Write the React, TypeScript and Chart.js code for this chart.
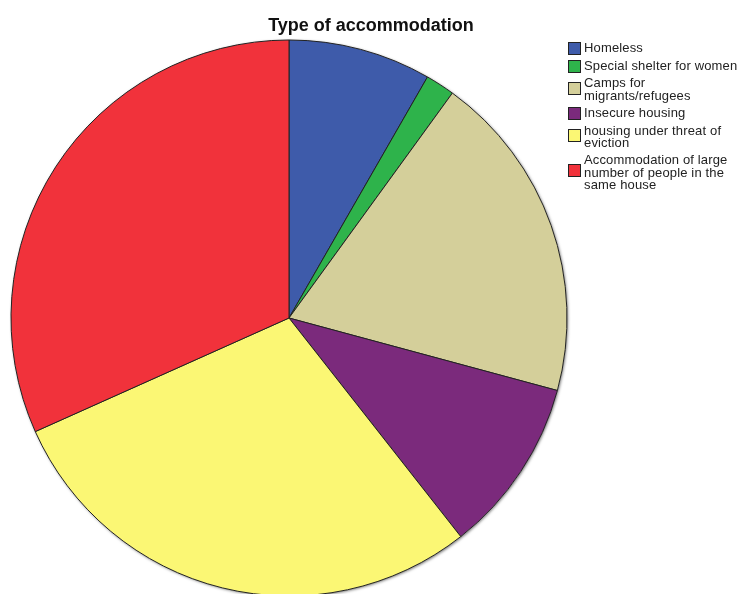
import React, { useEffect, useRef } from "react";
import { Chart, registerables } from "chart.js";

Chart.register(...registerables);

const categories = [
  "Homeless",
  "Special shelter for women",
  "Camps for migrants/refugees",
  "Insecure housing",
  "housing under threat of eviction",
  "Accommodation of large number of people in the same house",
];
const legendLines = [
  ["Homeless"],
  ["Special shelter for women"],
  ["Camps for", "migrants/refugees"],
  ["Insecure housing"],
  ["housing under threat of", "eviction"],
  ["Accommodation of large", "number of people in the", "same house"],
];
const values = [8.3, 1.7, 19.2, 10.2, 28.9, 31.7];
const colors = ["#3E5BAA", "#2EB34B", "#D4CF9A", "#7B2A7C", "#FBF774", "#F1323B"];
const title = "Type of accommodation";

const shadowPlugin = {
  id: "pieShadow",
  beforeDatasetsDraw(chart: any) {
    const arc = chart.getDatasetMeta(0).data[0];
    if (!arc) return;
    const { x, y, outerRadius } = arc.getProps(["x", "y", "outerRadius"], true);
    const ctx = chart.ctx;
    ctx.save();
    ctx.shadowColor = "rgba(0,0,0,0.55)";
    ctx.shadowBlur = 3;
    ctx.shadowOffsetX = 1;
    ctx.shadowOffsetY = 1;
    ctx.beginPath();
    ctx.arc(x, y, outerRadius, 0, Math.PI * 2);
    ctx.fillStyle = "#ffffff";
    ctx.fill();
    ctx.restore();
  },
};

export default function App() {
  const ref = useRef<HTMLCanvasElement>(null);
  useEffect(() => {
    if (!ref.current) return;
    const chart = new Chart(ref.current, {
      type: "pie",
      data: {
        labels: categories,
        datasets: [
          {
            data: values,
            backgroundColor: colors,
            borderColor: "#222222",
            borderWidth: 1,
          },
        ],
      },
      options: {
        animation: false,
        responsive: false,
        radius: 278,
        layout: { padding: { left: 0, right: 164, top: 42, bottom: 0 } },
        plugins: {
          legend: { display: false },
          title: { display: false },
          tooltip: { enabled: false },
        },
      },
      plugins: [shadowPlugin],
    });
    return () => chart.destroy();
  }, []);

  return (
    <div
      style={{
        position: "absolute",
        left: 0,
        top: 0,
        width: 742,
        height: 594,
        background: "#fff",
        overflow: "hidden",
        fontFamily: "Arial, 'Liberation Sans', sans-serif",
      }}
    >
      <canvas ref={ref} width={742} height={594} style={{ position: "absolute", left: 0, top: 0 }} />
      <div
        style={{
          position: "absolute",
          left: 0,
          width: 742,
          top: 15,
          textAlign: "center",
          fontWeight: "bold",
          fontSize: 18,
          color: "#111",
          whiteSpace: "nowrap",
        }}
      >
        {title}
      </div>
      <div
        style={{
          position: "absolute",
          left: 568,
          top: 42,
          color: "#222",
          fontSize: 13,
          letterSpacing: "0.15px",
          whiteSpace: "nowrap",
        }}
      >
        {legendLines.map((lines, i) => (
          <div key={i} style={{ display: "flex", alignItems: "center", marginBottom: 4.7 }}>
            <div
              style={{
                width: 11,
                height: 11,
                background: colors[i],
                border: "1px solid #222",
                marginRight: 3,
                flexShrink: 0,
                position: "relative",
                top: -(lines.length - 1) * 1.5,
              }}
            />
            <div style={{ lineHeight: "12.5px" }}>
              {lines.map((l, j) => (
                <div key={j}>{l}</div>
              ))}
            </div>
          </div>
        ))}
      </div>
    </div>
  );
}
